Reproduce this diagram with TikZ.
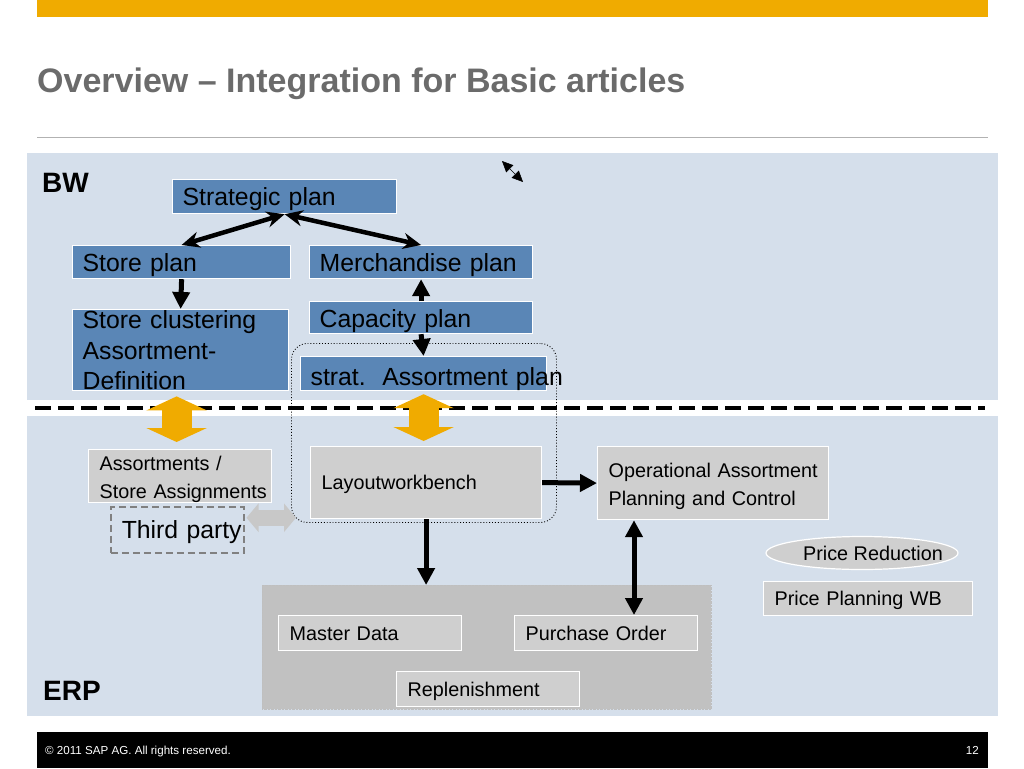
\documentclass[tikz,border=0pt]{standalone}
\usepackage{fontspec}
\setmainfont{Liberation Sans}
\usetikzlibrary{arrows.meta,calc,shapes.geometric}
\definecolor{sapgold}{HTML}{F0AB00}
\definecolor{panelblue}{HTML}{D5DFEB}
\definecolor{planblue}{HTML}{5A86B6}
\definecolor{boxgray}{HTML}{CFCFCF}
\definecolor{areagray}{HTML}{C1C1C1}
\definecolor{titlegray}{HTML}{6B6B6B}
\definecolor{linkgray}{HTML}{C8C8C8}

\tikzset{
	planbox/.style={draw=white, line width=1.2pt, fill=planblue, anchor=north west, inner xsep=10pt, inner ysep=0pt, align=left, font=\fontsize{24.8}{30.5}\selectfont},
	graybox/.style={draw=white, line width=1.2pt, fill=boxgray, anchor=north west, inner xsep=11pt, inner ysep=0pt, align=left, font=\fontsize{19.8}{28}\selectfont},
	onerow/.style={text height=#1, text depth=0pt},
	blackarrow/.style={line width=5pt, -{Triangle[length=17pt,width=17pt]}},
	blackdbl/.style={line width=5pt, {Triangle[length=17pt,width=17pt]}-{Triangle[length=17pt,width=17pt]}},
	stealthdbl/.style={line width=4.5pt, {Stealth[length=18pt,width=16pt]}-{Stealth[length=18pt,width=16pt]}},
	goldarrow/.style={line width=30pt, sapgold, {Triangle[length=14pt,width=60pt]}-{Triangle[length=14pt,width=60pt]}},
	grayarrow/.style={line width=16pt, linkgray, {Triangle[length=12pt,width=28pt]}-{Triangle[length=12pt,width=28pt]}}
}

\begin{document}
\begin{tikzpicture}[x=1pt, y=-1pt]
		%%%%% START %%%%%
		\useasboundingbox (0,0) rectangle (1024,768);
		
		% header and footer
		\fill[sapgold] (37,0) rectangle (988,17);
		\node[anchor=base west, inner sep=0pt, text=titlegray, font=\bfseries\fontsize{34}{40}\selectfont] (title) at (37,92) {Overview – Integration for Basic articles};
		\draw[black!30, line width=1pt] (37,137) -- (988,137);
		\fill[black] (37,732) rectangle (988,768);
		\node[anchor=base west, inner sep=0pt, text=white, font=\fontsize{11.6}{13}\selectfont] (copy) at (45,754) {© 2011 SAP AG. All rights reserved.};
		\node[anchor=base east, inner sep=0pt, text=white, font=\fontsize{11.6}{13}\selectfont] (page) at (979,754) {12};
		
		% panels
		\fill[panelblue] (27,153) rectangle (998,400);
		\fill[panelblue] (27,416) rectangle (998,716);
		\draw[line width=3.5pt, dash pattern=on 16pt off 7pt] (35,408) -- (985,408);
		\node[anchor=base west, inner sep=0pt, font=\bfseries\fontsize{28}{30}\selectfont] (bw) at (42,192) {BW};
		\node[anchor=base west, inner sep=0pt, font=\bfseries\fontsize{28}{30}\selectfont] (erp) at (43,700) {ERP};
		
		\node[draw, dotted, line width=0.9pt, rounded corners=16pt, anchor=north west, minimum width=265pt, minimum height=179pt, inner sep=0pt] (grp) at (291,343) {};
		\node[fill=areagray, draw=black!25, densely dotted, anchor=north west, minimum width=449pt, minimum height=124pt, inner sep=0pt] (erpreg) at (262,585) {};
		
		% BW plans
		\node[planbox, onerow=18pt, text width=204pt, minimum height=34pt] (strat) at (172,179) {Strategic plan};
		\node[planbox, onerow=18pt, text width=198pt, minimum height=33pt] (store) at (72,245) {Store plan};
		\node[planbox, onerow=18pt, text width=203pt, minimum height=33pt] (merch) at (309,245) {Merchandise plan};
		\node[planbox, text width=196pt, minimum height=81pt, inner ysep=1pt] (clus) at (72,309) {Store clustering\\Assortment-\\Definition};
		\node[planbox, onerow=20pt, text width=203pt, minimum height=32pt] (cap) at (309,301) {Capacity plan};
		\node[planbox, onerow=24pt, text width=226pt, minimum height=34pt] (sap) at (300,356) {\rlap{strat.\ \ Assortment plan}};
		
		% ERP boxes
		\node[graybox, text width=161pt, minimum height=48pt] (asgn) at (88,449) {\rule{0pt}{21pt}\mbox{Assortments /}\\\mbox{Store Assignments}};
		\node[draw=black!50, dash pattern=on 7pt off 4pt, line width=1.5pt, anchor=north west, inner xsep=11pt, inner ysep=0pt, onerow=18pt, text width=111pt, minimum height=46pt, align=left, font=\fontsize{24.8}{28}\selectfont] (third) at (110,506) {\mbox{Third party}};
		\node[graybox, onerow=14.5pt, text width=209pt, minimum height=72pt] (layout) at (310,446) {Layoutworkbench};
		\node[graybox, text width=209pt, minimum height=73pt] (oper) at (597,446) {\rule{0pt}{21pt}\mbox{Operational Assortment}\\Planning and Control};
		\node[ellipse, draw=white, line width=1.2pt, fill=boxgray, minimum width=192pt, minimum height=33pt, inner sep=0pt, font=\fontsize{19.8}{24}\selectfont] (price) at (862,553) {\makebox[0pt]{\hspace*{22pt}Price Reduction}};
		\node[graybox, onerow=14.5pt, text width=187pt, minimum height=34pt] (ppwb) at (763,581) {Price Planning WB};
		\node[graybox, onerow=14.5pt, text width=161pt, minimum height=35pt] (master) at (278,615) {Master Data};
		\node[graybox, onerow=14.5pt, text width=161pt, minimum height=35pt] (po) at (514,615) {Purchase Order};
		\node[graybox, onerow=14.5pt, text width=161pt, minimum height=35pt] (repl) at (396,671) {Replenishment};
		
		% arrows
		\draw[stealthdbl] (strat.south) -- (store.north);
		\draw[stealthdbl] (strat.south) -- (merch.north);
		\draw[blackarrow] (store.south) -- (clus.north);
		\draw[blackarrow] (cap.north) -- (merch.south);
		\draw[blackarrow] (cap.south) -- (sap.north);
		
		\coordinate (ga) at ([xshift=-4pt]clus.south);
		\draw[goldarrow, shorten <=5pt, shorten >=7pt] (ga) -- (ga |- asgn.north);
		\draw[goldarrow, shorten <=3pt, shorten >=5pt] (sap.south) -- (sap.south |- layout.north);
		
		\coordinate (ta) at ([yshift=12pt]third.east);
		\draw[grayarrow, shorten <=2pt, shorten >=-5pt] (ta) -- (ta -| grp.west);
		
		\draw[blackarrow] (layout.east) -- (oper.west);
		\draw[blackarrow] (layout.south) -- (layout.south |- erpreg.north);
		\coordinate (opc) at ([xshift=37pt]oper.south west);
		\draw[blackdbl] (opc) -- (opc |- po.north);
		
		\coordinate (tw1) at (502,161);
		\coordinate (tw2) at (523,182);
		\draw[line width=0.5pt, {Triangle[length=11pt,width=10pt]}-{Triangle[length=11pt,width=10pt]}] (tw1) -- (tw2);
		
		%%%%% END %%%%%
	\end{tikzpicture}
\end{document}
